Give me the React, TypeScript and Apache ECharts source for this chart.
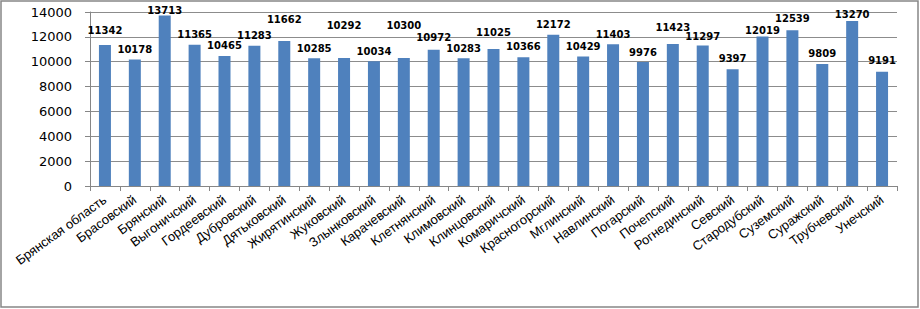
import React, { useEffect, useRef } from "react";
import * as echarts from "echarts";

const categories = [
  "Брянская область", "Брасовский", "Брянский", "Выгоничский", "Гордеевский",
  "Дубровский", "Дятьковский", "Жирятинский", "Жуковский", "Злынковский",
  "Карачевский", "Клетнянский", "Климовский", "Клинцовский", "Комаричский",
  "Красногорский", "Мглинский", "Навлинский", "Погарский", "Почепский",
  "Рогнединский", "Севский", "Стародубский", "Суземский", "Суражский",
  "Трубчевский", "Унечский",
];

const values = [
  11342, 10178, 13713, 11365, 10465, 11283, 11662, 10285, 10292, 10034,
  10300, 10972, 10283, 11025, 10366, 12172, 10429, 11403, 9976, 11423,
  11297, 9397, 12019, 12539, 9809, 13270, 9191,
];

const yTicks = [0, 2000, 4000, 6000, 8000, 10000, 12000, 14000];

// vertical label shifts (px) to mimic the reference's staggered labels
const labelShift = [
  -5, 0, 5, 0, 0, 0, -12, 0, -23, 0,
  -22, -2, 0, -6, -1, 0, 0, 0, 0, -7,
  1, -1, 4, -2, -1, 3, -1,
];

export default function App() {
  const ref = useRef<HTMLDivElement>(null);
  useEffect(() => {
    if (!ref.current) return;
    const chart = echarts.init(ref.current, null, { renderer: "svg" });
    chart.setOption({
      animation: false,
      backgroundColor: "#ffffff",
      graphic: [
        {
          type: "rect",
          shape: { x: 1, y: 1, width: 917, height: 306 },
          style: { fill: "none", stroke: "#868686", lineWidth: 1.5 },
          silent: true,
        },
      ],
      grid: { left: 90, right: 23, top: 12, bottom: 123 },
      xAxis: {
        type: "category",
        data: categories,
        boundaryGap: true,
        axisLine: { lineStyle: { color: "#868686" } },
        axisTick: { show: true, alignWithLabel: false, length: 5, lineStyle: { color: "#868686" } },
        axisLabel: {
          interval: 0,
          rotate: 36,
          margin: 12,
          color: "#000000",
          fontFamily: "Liberation Sans",
          fontSize: 13,
        },
      },
      yAxis: {
        type: "value",
        min: yTicks[0],
        max: yTicks[yTicks.length - 1],
        interval: 2000,
        axisLine: { show: true, lineStyle: { color: "#868686" } },
        axisTick: { show: true, length: 5, lineStyle: { color: "#868686" } },
        splitLine: { lineStyle: { color: "#8c8c8c", width: 1 } },
        axisLabel: {
          color: "#000000",
          fontFamily: "DejaVu Sans",
          fontSize: 13,
          margin: 18,
          formatter: (v: number) => String(v),
        },
      },
      series: [
        {
          type: "bar",
          barWidth: 12,
          data: values.map((v, i) => ({
            value: v,
            label: { offset: [0, labelShift[i]] },
          })),
          itemStyle: { color: "#4F81BD" },
          label: {
            show: true,
            position: "top",
            distance: 5,
            color: "#000000",
            fontFamily: "DejaVu Sans",
            fontSize: 10,
            fontWeight: "bold",
          },
        },
      ],
    });
    return () => chart.dispose();
  }, []);
  return (
    <div
      ref={ref}
      style={{ position: "fixed", left: 0, top: 0, width: 920, height: 309 }}
    />
  );
}
